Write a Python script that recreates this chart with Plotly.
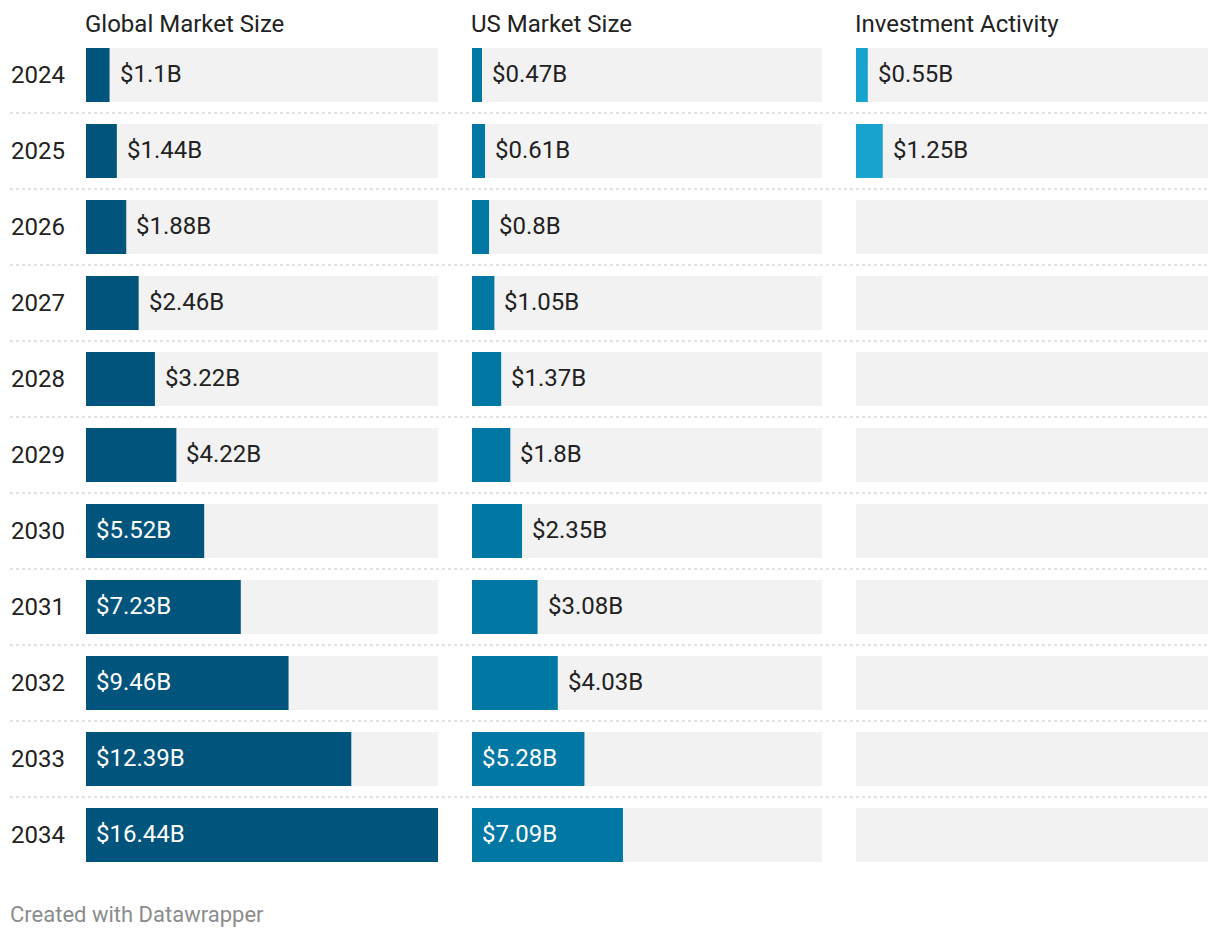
import plotly.graph_objects as go

# ---- data ----
years = [str(y) for y in range(2024, 2035)]
global_size = [1.1, 1.44, 1.88, 2.46, 3.22, 4.22, 5.52, 7.23, 9.46, 12.39, 16.44]
us_size = [0.47, 0.61, 0.8, 1.05, 1.37, 1.8, 2.35, 3.08, 4.03, 5.28, 7.09]
investment = [0.55, 1.25, None, None, None, None, None, None, None, None, None]
panel_titles = ["Global Market Size", "US Market Size", "Investment Activity"]

series = [global_size, us_size, investment]
colors = ["#01547b", "#0177a3", "#18a2ce"]
BG = "#f2f2f2"
TEXT = "#222222"
FONT = "Roboto"
INSIDE_MIN = 5.0  # labels go inside the bar when the bar is long enough

# page body has an 8px margin; work in reference pixel coords and shift
OFF = 8
W, H = 1220 - 2 * OFF, 938 - 2 * OFF


def px(xr):
    return (xr - OFF) / W


def py(yr):
    return 1 - (yr - OFF) / H


domains = [(86, 438), (472, 822), (856, 1208)]
vmax = max(v for s in series for v in s if v is not None)

fig = go.Figure()
axis_ids = ["x", "x2", "x3"]
for k, (vals, col) in enumerate(zip(series, colors)):
    ax = axis_ids[k]
    fig.add_trace(go.Bar(y=years, x=[vmax] * len(years), orientation="h",
                         marker=dict(color=BG, line=dict(width=0)),
                         xaxis=ax, yaxis="y", hoverinfo="skip", showlegend=False))
    fig.add_trace(go.Bar(y=years, x=vals, orientation="h",
                         marker=dict(color=col, line=dict(width=0)),
                         xaxis=ax, yaxis="y", showlegend=False))
    for i, v in enumerate(vals):
        if v is None:
            continue
        inside = v >= INSIDE_MIN
        fig.add_annotation(x=0 if inside else v, y=i, xref=ax, yref="y",
                           text=f"${v:g}B", showarrow=False, xanchor="left",
                           yanchor="middle", xshift=8, yshift=1,
                           font=dict(family=FONT, size=24,
                                     color="white" if inside else TEXT))
    fig.add_annotation(x=0, y=py(24), xref=f"{ax} domain", yref="paper",
                       text=panel_titles[k], showarrow=False, xanchor="left",
                       yanchor="middle", xshift=-3,
                       font=dict(family=FONT, size=24, color=TEXT))

# dotted separators between rows
for i in range(len(years) - 1):
    fig.add_shape(type="line", xref="paper", yref="y", x0=px(10), x1=px(1208),
                  y0=i + 0.5, y1=i + 0.5,
                  line=dict(color="#c4c4c4", width=1, dash="dot"), layer="below")

layout_axes = {}
for k, (a, b) in enumerate(domains):
    name = "xaxis" if k == 0 else f"xaxis{k+1}"
    layout_axes[name] = dict(domain=[px(a), px(b)], range=[0, vmax], visible=False,
                             fixedrange=True, anchor="y")

fig.update_layout(
    **layout_axes,
    yaxis=dict(domain=[py(873), py(37)], range=[10.5, -0.5], type="category",
               showgrid=False, zeroline=False, showline=False, ticks="",
               ticklabelstandoff=20, fixedrange=True,
               tickfont=dict(family=FONT, size=24, color=TEXT)),
    barmode="overlay", bargap=22 / 76,
    width=W, height=H, margin=dict(l=0, r=0, t=0, b=0),
    paper_bgcolor="white", plot_bgcolor="white",
    font=dict(family=FONT, color=TEXT),
)

fig.add_annotation(x=px(10), y=py(914), xref="paper", yref="paper",
                   text="Created with Datawrapper", showarrow=False, xanchor="left",
                   yanchor="middle", xshift=-2,
                   font=dict(family=FONT, size=22, color="#8c8c8c"))

fig.write_html("out.html", config={"displayModeBar": False})
